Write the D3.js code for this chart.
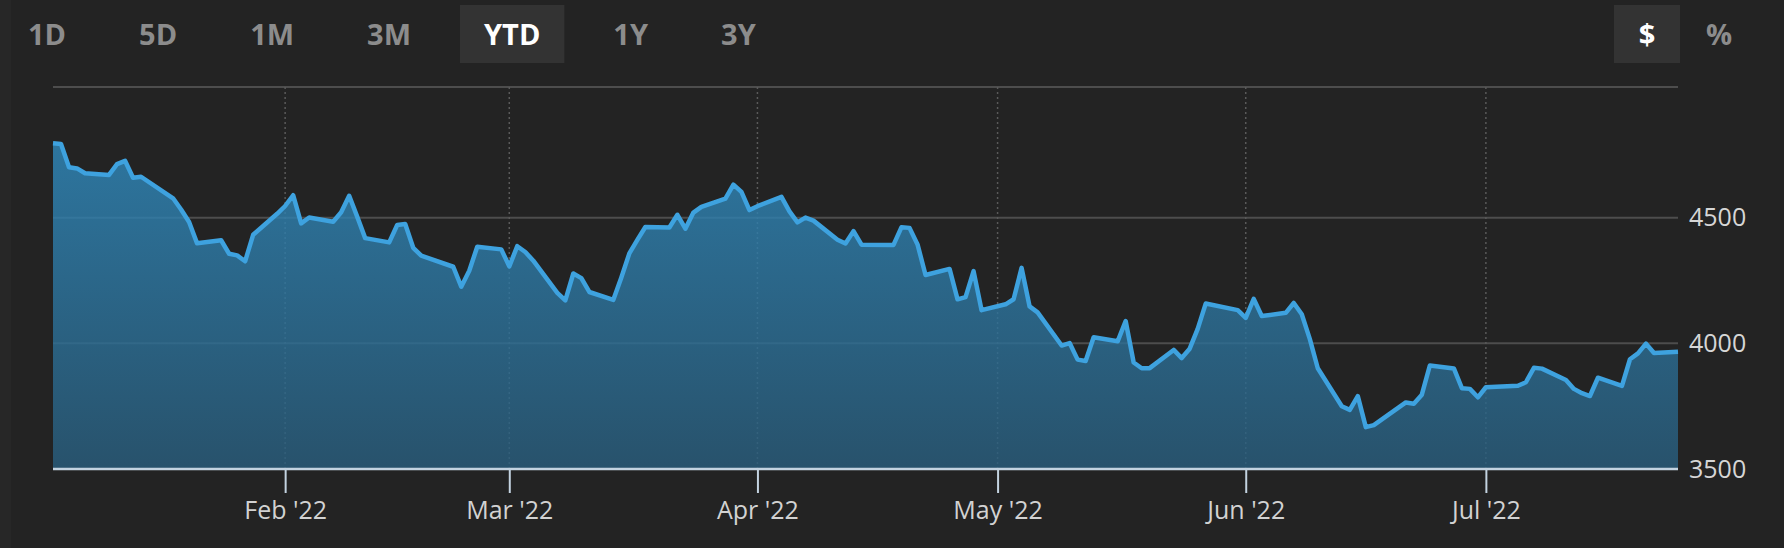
<!DOCTYPE html>
<html>
<head>
<meta charset="utf-8">
<script src="https://cdn.jsdelivr.net/npm/d3@7"></script>
<style>
  html, body { margin: 0; padding: 0; background: #232323; }
  svg { display: block; font-family: "Open Sans", sans-serif; }
</style>
</head>
<body>
<script>
"use strict";

const dates = [
  "2022-01-03", "2022-01-04", "2022-01-05", "2022-01-06", "2022-01-07", "2022-01-10", "2022-01-11", "2022-01-12",
  "2022-01-13", "2022-01-14", "2022-01-18", "2022-01-19", "2022-01-20", "2022-01-21", "2022-01-24", "2022-01-25",
  "2022-01-26", "2022-01-27", "2022-01-28", "2022-01-31",
  "2022-02-01", "2022-02-02", "2022-02-03", "2022-02-04", "2022-02-07", "2022-02-08", "2022-02-09", "2022-02-10",
  "2022-02-11", "2022-02-14", "2022-02-15", "2022-02-16", "2022-02-17", "2022-02-18", "2022-02-22", "2022-02-23",
  "2022-02-24", "2022-02-25", "2022-02-28",
  "2022-03-01", "2022-03-02", "2022-03-03", "2022-03-04", "2022-03-07", "2022-03-08", "2022-03-09", "2022-03-10",
  "2022-03-11", "2022-03-14", "2022-03-15", "2022-03-16", "2022-03-17", "2022-03-18", "2022-03-21", "2022-03-22",
  "2022-03-23", "2022-03-24", "2022-03-25", "2022-03-28", "2022-03-29", "2022-03-30", "2022-03-31",
  "2022-04-01", "2022-04-04", "2022-04-05", "2022-04-06", "2022-04-07", "2022-04-08", "2022-04-11", "2022-04-12",
  "2022-04-13", "2022-04-14", "2022-04-18", "2022-04-19", "2022-04-20", "2022-04-21", "2022-04-22", "2022-04-25",
  "2022-04-26", "2022-04-27", "2022-04-28", "2022-04-29",
  "2022-05-02", "2022-05-03", "2022-05-04", "2022-05-05", "2022-05-06", "2022-05-09", "2022-05-10", "2022-05-11",
  "2022-05-12", "2022-05-13", "2022-05-16", "2022-05-17", "2022-05-18", "2022-05-19", "2022-05-20", "2022-05-23",
  "2022-05-24", "2022-05-25", "2022-05-26", "2022-05-27", "2022-05-31",
  "2022-06-01", "2022-06-02", "2022-06-03", "2022-06-06", "2022-06-07", "2022-06-08", "2022-06-09", "2022-06-10",
  "2022-06-13", "2022-06-14", "2022-06-15", "2022-06-16", "2022-06-17", "2022-06-21", "2022-06-22", "2022-06-23",
  "2022-06-24", "2022-06-27", "2022-06-28", "2022-06-29", "2022-06-30",
  "2022-07-01", "2022-07-05", "2022-07-06", "2022-07-07", "2022-07-08", "2022-07-11", "2022-07-12", "2022-07-13",
  "2022-07-14", "2022-07-15", "2022-07-18", "2022-07-19", "2022-07-20", "2022-07-21", "2022-07-22", "2022-07-25"
];

const closes = [
  4796.56, 4793.54, 4700.58, 4696.05, 4677.03, 4670.29, 4713.07, 4726.35,
  4659.03, 4662.85, 4577.11, 4532.76, 4482.73, 4397.94, 4410.13, 4356.45,
  4349.93, 4326.51, 4431.85, 4515.55,
  4546.54, 4589.38, 4477.44, 4500.53, 4483.87, 4521.54, 4587.18, 4504.08,
  4418.64, 4401.67, 4471.07, 4475.01, 4380.26, 4348.87, 4304.76, 4225.50,
  4288.70, 4384.65, 4373.94,
  4306.26, 4386.54, 4363.49, 4328.87, 4201.09, 4170.70, 4277.88, 4259.52,
  4204.31, 4173.11, 4262.45, 4357.86, 4411.67, 4463.12, 4461.18, 4511.61,
  4456.24, 4520.16, 4543.06, 4575.52, 4631.60, 4602.45, 4530.41,
  4545.86, 4582.64, 4525.12, 4481.15, 4500.21, 4488.28, 4412.53, 4397.45,
  4446.59, 4392.59, 4391.69, 4462.21, 4459.45, 4393.66, 4271.78, 4296.12,
  4175.20, 4183.96, 4287.50, 4131.93,
  4155.38, 4175.48, 4300.17, 4146.87, 4123.34, 3991.24, 4001.05, 3935.18,
  3930.08, 4023.89, 4008.01, 4088.85, 3923.68, 3900.79, 3901.36, 3973.75,
  3941.48, 3978.73, 4057.84, 4158.24, 4132.15,
  4101.23, 4176.82, 4108.54, 4121.43, 4160.68, 4115.77, 4017.82, 3900.86,
  3749.63, 3735.48, 3789.99, 3666.77, 3674.84, 3764.79, 3759.89, 3795.73,
  3911.74, 3900.11, 3821.55, 3818.83, 3785.38,
  3825.33, 3831.39, 3845.08, 3902.62, 3899.38, 3854.43, 3818.80, 3801.78,
  3790.38, 3863.16, 3830.85, 3936.69, 3959.90, 3998.95, 3961.63, 3966.84
];

const yTicks = [3500, 4000, 4500];
const rangeButtons = ["1D", "5D", "1M", "3M", "YTD", "1Y", "3Y"];
const activeRange = "YTD";
const unitButtons = ["$", "%"];
const activeUnit = "$";

const width = 1784;
const height = 548;
const plot = { left: 53, right: 1678, top: 87, bottom: 469 };

const parseDate = d3.timeParse("%Y-%m-%d");
const points = dates.map((d, i) => ({ date: parseDate(d), value: closes[i] }));

const svg = d3
  .select("body")
  .append("svg")
  .attr("width", width)
  .attr("height", height);

svg.append("rect")
  .attr("width", width)
  .attr("height", height)
  .attr("fill", "#232323");

svg.append("rect")
  .attr("width", 11)
  .attr("height", height)
  .attr("fill", "#272727");

const x = d3
  .scaleTime()
  .domain(d3.extent(points, d => d.date))
  .range([plot.left, plot.right]);

const y = d3
  .scaleLinear()
  .domain([3500, 5020])
  .range([plot.bottom, plot.top]);

// gradient for the area
const defs = svg.append("defs");
const grad = defs.append("linearGradient")
  .attr("id", "areaFill")
  .attr("gradientUnits", "userSpaceOnUse")
  .attr("x1", 0).attr("x2", 0)
  .attr("y1", plot.top).attr("y2", plot.bottom);
grad.append("stop").attr("offset", "0%").attr("stop-color", "#3192c9");
grad.append("stop").attr("offset", "100%").attr("stop-color", "#295e7e");

// grid
const grid = svg.append("g");
grid.append("line")
  .attr("x1", plot.left).attr("x2", plot.right)
  .attr("y1", plot.top).attr("y2", plot.top)
  .attr("stroke", "#4d4d4d")
  .attr("stroke-width", 2);

grid.selectAll(".hgrid")
  .data(yTicks.filter(v => v > 3500))
  .enter()
  .append("line")
  .attr("class", "hgrid")
  .attr("x1", plot.left).attr("x2", plot.right)
  .attr("y1", d => y(d)).attr("y2", d => y(d))
  .attr("stroke", "#4d4d4d")
  .attr("stroke-width", 2);

const monthTicks = x.ticks(d3.timeMonth.every(1));

grid.selectAll(".vgrid")
  .data(monthTicks)
  .enter()
  .append("line")
  .attr("class", "vgrid")
  .attr("x1", d => x(d)).attr("x2", d => x(d))
  .attr("y1", plot.top).attr("y2", plot.bottom)
  .attr("stroke", "#5a5a5a")
  .attr("stroke-width", 1.5)
  .attr("stroke-dasharray", "2,3");

// area + line
const area = d3.area()
  .x(d => x(d.date))
  .y0(plot.bottom)
  .y1(d => y(d.value));

const line = d3.line()
  .x(d => x(d.date))
  .y(d => y(d.value));

svg.append("path")
  .datum(points)
  .attr("d", area)
  .attr("fill", "url(#areaFill)")
  .attr("opacity", 0.8);

svg.append("path")
  .datum(points)
  .attr("d", line)
  .attr("fill", "none")
  .attr("stroke", "#3ea2df")
  .attr("stroke-width", 4.5)
  .attr("stroke-linejoin", "round");

// x axis
const xAxis = svg.append("g")
  .attr("transform", `translate(0,${plot.bottom})`)
  .call(
    d3.axisBottom(x)
      .tickValues(monthTicks)
      .tickFormat(d3.timeFormat("%b '%y"))
      .tickSize(24)
      .tickPadding(8)
  );
xAxis.select(".domain").remove();
xAxis.selectAll(".tick line")
  .attr("stroke", "#c3d3e0")
  .attr("stroke-width", 2);
xAxis.selectAll(".tick text")
  .attr("fill", "#d2d2d2")
  .attr("font-size", 25)
  .attr("font-family", "'Open Sans', sans-serif");

svg.append("line")
  .attr("x1", plot.left).attr("x2", plot.right)
  .attr("y1", plot.bottom).attr("y2", plot.bottom)
  .attr("stroke", "#c3d3e0")
  .attr("stroke-width", 2.5);

// y axis labels
const yAxis = svg.append("g")
  .attr("transform", `translate(${plot.right},0)`)
  .call(
    d3.axisRight(y)
      .tickValues(yTicks)
      .tickFormat(d3.format("d"))
      .tickSize(0)
      .tickPadding(11)
  );
yAxis.select(".domain").remove();
yAxis.selectAll(".tick text")
  .attr("fill", "#d6d6d6")
  .attr("font-size", 25)
  .attr("font-family", "'Open Sans', sans-serif");

// range selector buttons
const buttons = svg.append("g");
let bx = 28;
rangeButtons.forEach(label => {
  const active = label === activeRange;
  const g = buttons.append("g");
  const t = g.append("text")
    .attr("x", bx)
    .attr("y", 44.5)
    .attr("font-size", 29)
    .attr("font-weight", "bold")
    .attr("fill", active ? "#ffffff" : "#8c8c8c")
    .text(label);
  const w = t.node().getComputedTextLength();
  if (active) {
    g.insert("rect", "text")
      .attr("x", bx - 24)
      .attr("y", 5)
      .attr("width", w + 48)
      .attr("height", 58)
      .attr("fill", "#333333");
  }
  bx += w + 73;
});

// currency / percent toggle
const unitX = d3.scalePoint().domain(unitButtons).range([1647, 1719]);
unitButtons.forEach(label => {
  const active = label === activeUnit;
  if (active) {
    buttons.append("rect")
      .attr("x", unitX(label) - 33)
      .attr("y", 5)
      .attr("width", 66)
      .attr("height", 58)
      .attr("fill", "#333333");
  }
  buttons.append("text")
    .attr("x", unitX(label))
    .attr("y", 44.5)
    .attr("text-anchor", "middle")
    .attr("font-size", 29)
    .attr("font-weight", "bold")
    .attr("fill", active ? "#ffffff" : "#8c8c8c")
    .text(label);
});
</script>
</body>
</html>
